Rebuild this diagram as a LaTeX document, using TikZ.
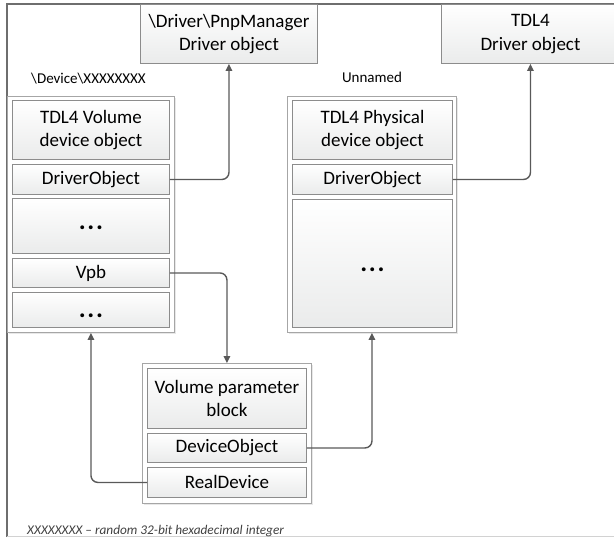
\documentclass[tikz,border=0pt]{standalone}
\usepackage{fontspec}
\setmainfont{Carlito}
\usetikzlibrary{arrows.meta,shadows}
\definecolor{boxline}{HTML}{8C8C8C}
\definecolor{contline}{HTML}{A6A6A6}
\definecolor{boxbot}{HTML}{EAEBEB}
\definecolor{connc}{HTML}{595959}
\definecolor{framec}{HTML}{6E6E6E}
\newcommand{\mydots}{.\kern1.6pt.\kern1.6pt.}
\newcommand{\dotsat}[1]{\raisebox{#1}[0pt][0pt]{\mydots}}
\tikzset{
  cell/.style={draw=boxline, line width=0.9pt, top color=white, bottom color=boxbot,
    anchor=north west, inner sep=0pt, align=center,
    font=\fontsize{19}{23.5}\selectfont},
  cont/.style={draw=contline, line width=0.9pt, fill=white, anchor=north west, inner sep=0pt,
    drop shadow={shadow xshift=1.2pt, shadow yshift=-1.2pt, opacity=0.18}},
  topbox/.style={draw=boxline, line width=0.9pt, top color=white, bottom color=boxbot,
    anchor=north west, inner sep=0pt, align=center,
    font=\fontsize{19}{23.5}\selectfont},
  lbl/.style={font=\fontsize{15}{17}\selectfont, inner sep=0pt},
  conn/.style={draw=connc, line width=1.4pt, rounded corners=7pt,
    -{Triangle[length=7pt,width=6.5pt]}},
  dots/.style={font=\fontsize{26}{26}\selectfont\bfseries}
}
\begin{document}
\begin{tikzpicture}[x=1pt,y=-1pt]
\useasboundingbox (0,0) rectangle (614,538);
% frame
\draw[draw=framec, line width=2pt] (7,537) -- (7,4) -- (616,4);
\draw[draw=gray!35, line width=1pt] (7,536.5) -- (616,536.5);
% top boxes
\node[topbox, minimum width=177pt, minimum height=59pt] (pnp) at (140,4) {\textbackslash Driver\textbackslash PnpManager\\Driver object};
\node[topbox, minimum width=178pt, minimum height=59pt] (tdl) at (441,4) {TDL4\\Driver object};
% labels
\node[lbl] (ldevname) at (88.5,79) {\textbackslash Device\textbackslash XXXXXXXX};
\node[lbl] (unnamed) at (372,77) {Unnamed};
% left container
\node[cont, minimum width=167pt, minimum height=236pt] (lcont) at (7,96) {};
\node[cell, minimum width=157pt, minimum height=59pt] (lvol) at (12,100) {TDL4 Volume\\device object};
\node[cell, minimum width=157pt, minimum height=30pt] (ldrv) at (12,164) {DriverObject};
\node[cell, minimum width=157pt, minimum height=55pt, dots] (ldotsa) at (12,198) {\dotsat{-3.3pt}};
\node[cell, minimum width=157pt, minimum height=29pt] (lvpb) at (12,258) {Vpb};
\node[cell, minimum width=157pt, minimum height=35pt, dots] (ldotsb) at (12,292) {\dotsat{-8pt}};
% right container
\node[cont, minimum width=169pt, minimum height=236pt] (rcont) at (287,96) {};
\node[cell, minimum width=160pt, minimum height=59pt] (rphys) at (292,100) {TDL4 Physical\\device object};
\node[cell, minimum width=160pt, minimum height=30pt] (rdrv) at (292,164) {DriverObject};
\node[cell, minimum width=160pt, minimum height=128pt, dots] (rdots) at (292,199) {\dotsat{-8.5pt}};
% VPB container
\node[cont, minimum width=169pt, minimum height=140pt] (vcont) at (142,363) {};
\node[cell, minimum width=159pt, minimum height=60pt] (vpbk) at (147,368) {Volume parameter\\block};
\node[cell, minimum width=159pt, minimum height=29pt] (vdev) at (147,433) {DeviceObject};
\node[cell, minimum width=159pt, minimum height=30pt] (vreal) at (147,467) {RealDevice};
% connectors
\draw[conn] (ldrv.east) -| (pnp.south);
\draw[conn] (rdrv.east) -| (tdl.south);
\draw[conn] (lvpb.east) -| (vcont.north);
\draw[conn] (vdev.east) -| (rcont.south);
\draw[conn] (vreal.west) -| (lcont.south);
% footnote
\node[anchor=west, inner sep=0pt, text=black!75, font=\fontsize{13.3}{15}\selectfont\itshape] (note) at (27,531) {XXXXXXXX -- random 32-bit hexadecimal integer};
\end{tikzpicture}
\end{document}
